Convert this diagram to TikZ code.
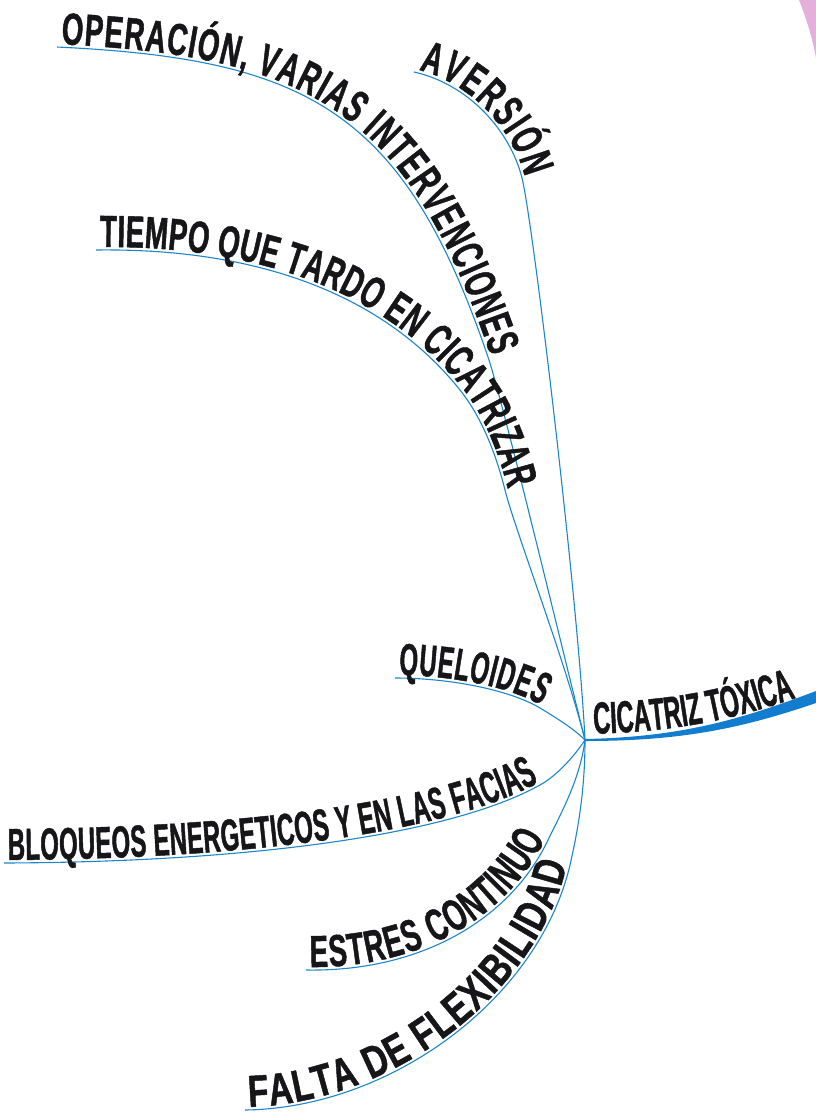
\documentclass[tikz,border=0pt]{standalone}
\usepackage{fontspec}
\newfontfamily\facenarrow{Liberation Sans}[FakeStretch=0.53, BoldFeatures={FakeBold=1}]
\newfontfamily\facemid{Liberation Sans}[FakeStretch=0.615, BoldFeatures={FakeBold=1}]
\newfontfamily\facewide{Liberation Sans}[FakeStretch=0.745, BoldFeatures={FakeBold=1}]
\definecolor{twigblue}{RGB}{28,134,204}
\definecolor{trunkblue}{RGB}{18,124,206}
\definecolor{ink}{RGB}{22,22,24}
\definecolor{orchid}{RGB}{196,78,176}
\usetikzlibrary{decorations.text}
\tikzset{
  twig/.style={draw=twigblue, line width=1.1pt},
  twigtext/.style 2 args={postaction={decorate, decoration={text along path,
      text={|#1\bfseries\fontsize{45}{45}\selectfont\color{ink}|#2},
      text align={fit to path, left indent=4pt}, raise=3pt}}},
}

\begin{document}
\begin{tikzpicture}[x=1pt, y=-1pt]
        \useasboundingbox (0,0) rectangle (816,1117);
        % corner of the neighbouring branch
        \fill[orchid, opacity=0.45] (799,0) .. controls (806,18) and (812,36) .. (816,58) -- (816,0) -- cycle;
        \coordinate (hub) at (585,740);
        \coordinate (rim) at (816,697);
        \coordinate (aversion) at (414,72);
        \coordinate (aversion-end) at (522,178);
        \coordinate (operacion) at (57,47);
        \coordinate (operacion-end) at (488,357);
        \coordinate (tiempo) at (96,250);
        \coordinate (tiempo-end) at (505,490);
        \coordinate (queloides) at (395,678);
        \coordinate (queloides-end) at (540,708);
        \coordinate (bloqueos) at (4,863);
        \coordinate (bloqueos-end) at (540,785);
        \coordinate (estres) at (306,970);
        \coordinate (estres-end) at (548,840);
        \coordinate (falta) at (245,1110);
        \coordinate (falta-end) at (570,865);
        % main branch
        \fill[trunkblue] (585,739) .. controls (680,737) and (740,720) .. (816,691)
          -- (816,703) .. controls (740,729) and (680,741) .. (585,741) -- cycle;
        \path[postaction={decorate, decoration={text along path,
            text={|\facenarrow\bfseries\fontsize{45}{45}\selectfont\color{ink}|CICATRIZ TÓXICA},
            text align={left indent=9pt}, raise=6pt}}]
          (hub) .. controls (680,738) and (740,725) .. (rim);
        % sub-branches: lettered part, then the run to the hub
        \draw[twig, twigtext={\facemid}{AVERSIÓN}] (aversion) .. controls (468,84) and (510,130) .. (aversion-end);
        \draw[twig] (aversion-end) .. controls (533,222) and (578,600) .. (hub);
        \draw[twig, twigtext={\facemid}{OPERACIÓN, VARIAS INTERVENCIONES}] (operacion) .. controls (307,59) and (404,110) .. (operacion-end);
        \draw[twig] (operacion-end) .. controls (502,398) and (565,660) .. (hub);
        \draw[twig, twigtext={\facemid}{TIEMPO QUE TARDO EN CICATRIZAR}] (tiempo) .. controls (250,248) and (380,290) .. (460,390)
          .. controls (480,415) and (495,450) .. (tiempo-end);
        \draw[twig] (tiempo-end) .. controls (515,530) and (565,660) .. (hub);
        \draw[twig, twigtext={\facenarrow}{QUELOIDES}] (queloides) .. controls (450,678) and (510,690) .. (queloides-end);
        \draw[twig] (queloides-end) .. controls (560,720) and (575,730) .. (hub);
        \draw[twig, twigtext={\facenarrow}{BLOQUEOS ENERGETICOS Y EN LAS FACIAS}] (bloqueos) .. controls (250,862) and (450,835) .. (bloqueos-end);
        \draw[twig] (bloqueos-end) .. controls (558,775) and (575,755) .. (hub);
        \draw[twig, twigtext={\facemid}{ESTRES CONTINUO}] (estres) .. controls (420,972) and (510,920) .. (estres-end);
        \draw[twig] (estres-end) .. controls (560,815) and (580,780) .. (hub);
        \draw[twig, twigtext={\facewide}{FALTA DE FLEXIBILIDAD}] (falta) .. controls (390,1108) and (538,1000) .. (falta-end);
        \draw[twig] (falta-end) .. controls (578,830) and (585,790) .. (hub);
      \end{tikzpicture}
\end{document}
